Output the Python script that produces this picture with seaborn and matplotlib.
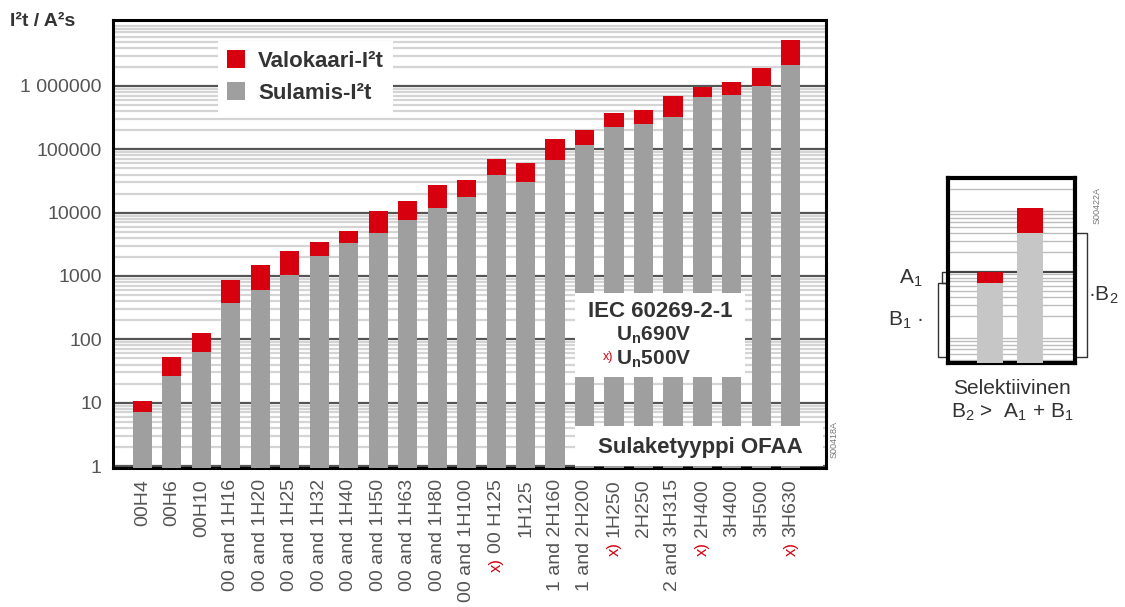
import numpy as np
import pandas as pd
import matplotlib.pyplot as plt
import matplotlib.ticker as mticker
import matplotlib.transforms as mtransforms
from matplotlib.patches import Rectangle
import seaborn as sns

sns.set_style("white")
plt.rcParams["font.family"] = ["Liberation Sans", "DejaVu Sans"]
plt.rcParams["mathtext.fontset"] = "custom"
plt.rcParams["mathtext.rm"] = "Liberation Sans"
plt.rcParams["mathtext.bf"] = "Liberation Sans:bold"

# fuse sizes (OFAA)
fuses = ["00H4", "00H6", "00H10", "00 and 1H16", "00 and 1H20", "00 and 1H25",
         "00 and 1H32", "00 and 1H40", "00 and 1H50", "00 and 1H63", "00 and 1H80",
         "00 and 1H100", "00 H125", "1H125", "1 and 2H160", "1 and 2H200", "1H250",
         "2H250", "2 and 3H315", "2H400", "3H400", "3H500", "3H630"]
# sizes only rated for 500 V, marked with a red x)
marked = ["00 H125", "1H250", "2H400", "3H630"]

# melting I2t and total (arcing) I2t, A2s
melt_i2t = [7, 26, 62, 370, 600, 1040, 2100, 3300, 4700, 7700, 12000, 17800,
            39600, 31000, 68000, 118000, 224000, 253000, 323000, 660000, 720000,
            985000, 2160000]
total_i2t = [10.5, 53, 125, 870, 1500, 2500, 3400, 5100, 10800, 15400, 27500, 33000,
             70000, 60600, 145000, 204000, 380000, 420000, 707000, 960000, 1140000,
             1950000, 5370000]

ytick_vals = [1, 10, 100, 1000, 10000, 100000, 1000000]
ytick_labels = ["1", "10", "100", "1000", "10000", "100000", "1 000000"]

# small selectivity sketch
sel_bars = ["A", "B"]
sel_melt = [65, 400]
sel_total = [98, 1000]

RED = "#d7000f"
GRAY = "#9f9f9f"
TXT = "#333333"

df = pd.DataFrame({"fuse": fuses, "melt": melt_i2t, "total": total_i2t})
sel = pd.DataFrame({"bar": sel_bars, "melt": sel_melt, "total": sel_total})

fig = plt.figure(figsize=(11.25, 6.07), dpi=100)

# main chart
ax = fig.add_axes([0.1004, 0.229, 0.634, 0.738])
ax.set_yscale("log")
sns.barplot(data=df, x="fuse", y="total", color=RED, width=0.65, saturation=1,
            linewidth=0, label="Valokaari-I²t", ax=ax, zorder=2)
sns.barplot(data=df, x="fuse", y="melt", color=GRAY, width=0.65, saturation=1,
            linewidth=0, label="Sulamis-I²t", ax=ax, zorder=3)
ax.set_xlim(-1.0, 23.2)
ax.set_ylim(0.93, 1.1e7)
ax.set_xlabel("")
ax.set_ylabel("")
ax.set_axisbelow(True)

ax.yaxis.set_minor_locator(mticker.LogLocator(base=10, subs=np.arange(2, 10)))
ax.yaxis.set_minor_formatter(mticker.NullFormatter())
ax.set_yticks(ytick_vals, ytick_labels)
ax.grid(axis="y", which="major", color="#555555", lw=1.6)
ax.grid(axis="y", which="minor", color="#d4d4d4", lw=1.6)
ax.tick_params(axis="y", which="both", length=0, labelsize=14, labelcolor="#555555", pad=8)
ax.set_xticks(range(len(fuses)), fuses, rotation=90)
ax.tick_params(axis="x", length=0, labelsize=14, labelcolor="#555555", pad=8)
for s in ax.spines.values():
    s.set_color("black")
    s.set_linewidth(2.2)

leg = ax.legend(loc="upper left", bbox_to_anchor=(0.132, 0.978), frameon=True,
                fancybox=False, edgecolor="none", framealpha=1,
                prop={"weight": "bold", "size": 16}, handlelength=0.8,
                handleheight=0.9, labelspacing=0.45, handletextpad=0.6)
for t in leg.get_texts():
    t.set_color(TXT)

# white info boxes over the bars
ax.add_patch(Rectangle((0.648, 0.203), 0.238, 0.188, transform=ax.transAxes,
                       facecolor="white", edgecolor="none", zorder=5))
ax.add_patch(Rectangle((0.648, 0.005), 0.348, 0.088, transform=ax.transAxes,
                       facecolor="white", edgecolor="none", zorder=5))
ax.text(0.767, 0.35, "IEC 60269-2-1", transform=ax.transAxes, ha="center",
        va="center", fontsize=16, weight="bold", color=TXT, zorder=6)
ax.text(0.7055, 0.296, r"U$_\mathbf{n}$690V", transform=ax.transAxes, ha="left",
        va="center", fontsize=15, weight="bold", color=TXT, zorder=6)
ax.text(0.7055, 0.242, r"U$_\mathbf{n}$500V", transform=ax.transAxes, ha="left",
        va="center", fontsize=15, weight="bold", color=TXT, zorder=6)
ax.text(0.702, 0.247, "x)", transform=ax.transAxes, ha="right", va="center",
        fontsize=9, color=RED, zorder=6)
ax.text(0.823, 0.045, "Sulaketyyppi OFAA", transform=ax.transAxes, ha="center",
        va="center", fontsize=16, weight="bold", color=TXT, zorder=6)

fig.text(0.009, 1 - 22 / 607, "I²t / A²s", ha="left", va="center", fontsize=14,
         weight="bold", color=TXT)
fig.text(834 / 1125, 1 - 440 / 607, "S00418A", rotation=90, ha="center",
         va="center", fontsize=6.5, color="#777777")

# selectivity sketch
ax2 = fig.add_axes([948 / 1125, 1 - 363 / 607, 127 / 1125, 185 / 607])
ax2.set_yscale("log")
sns.barplot(data=sel, x="bar", y="total", color=RED, width=0.67, saturation=1,
            linewidth=0, ax=ax2, zorder=2)
sns.barplot(data=sel, x="bar", y="melt", color="#c6c6c6", width=0.67, saturation=1,
            linewidth=0, ax=ax2, zorder=3)
ybot = 3.6
ax2.set_ylim(ybot, 3000)
ax2.set_xlim(-1.05, 2.125)
ax2.set_xlabel("")
ax2.set_ylabel("")
ax2.set_axisbelow(True)
ax2.set_yticks([100])
ax2.yaxis.set_minor_locator(mticker.LogLocator(base=10, subs=np.arange(2, 10)))
ax2.yaxis.set_minor_formatter(mticker.NullFormatter())
ax2.grid(axis="y", which="major", color="#444444", lw=1.6)
ax2.grid(axis="y", which="minor", color="#bdbdbd", lw=1.0)
ax2.tick_params(which="both", length=0, labelleft=False, labelbottom=False)
for s in ax2.spines.values():
    s.set_color("black")
    s.set_linewidth(3)

tr = mtransforms.blended_transform_factory(ax2.transAxes, ax2.transData)
yb = ybot * 1.25
# B1 bracket
ax2.plot([0, -0.08, -0.08, 0], [yb, yb, sel_melt[0], sel_melt[0]], transform=tr,
         color=TXT, lw=1, clip_on=False)
# A1 bracket
ax2.plot([0, -0.05, -0.05, 0], [sel_melt[0], sel_melt[0], sel_total[0], sel_total[0]],
         transform=tr, color=TXT, lw=1, clip_on=False)
# B2 bracket
ax2.plot([1.0, 1.094, 1.094, 1.0], [yb, yb, sel_melt[1], sel_melt[1]], transform=tr,
         color=TXT, lw=1, clip_on=False)
ax2.text(-0.2, np.sqrt(sel_melt[0] * sel_total[0]), "A$_1$", transform=tr, ha="right",
         va="center", fontsize=15, color=TXT)
ax2.text(-0.2, np.sqrt(yb * sel_melt[0]), "B$_1$ ·", transform=tr, ha="right",
         va="center", fontsize=15, color=TXT)
ax2.text(1.1, np.sqrt(yb * sel_melt[1]), "·B$_2$", transform=tr, ha="left",
         va="center", fontsize=15, color=TXT)
ax2.text(1.17, 0.85, "S00422A", transform=ax2.transAxes, rotation=90, ha="center",
         va="center", fontsize=6.5, color="#777777")

fig.text(1012 / 1125, 1 - 388 / 607, "Selektiivinen", ha="center", va="center",
         fontsize=15, color=TXT)
fig.text(1012 / 1125, 1 - 412 / 607, "B$_2$ >  A$_1$ + B$_1$", ha="center",
         va="center", fontsize=15, color=TXT)

# red x) marks under the 500 V fuse labels
fig.canvas.draw()
renderer = fig.canvas.get_renderer()
for lbl in ax.get_xticklabels():
    if lbl.get_text() in marked:
        bb = lbl.get_window_extent(renderer)
        fig.text((bb.x0 + bb.x1) / 2 / fig.bbox.width, (bb.y0 - 5) / fig.bbox.height,
                 "x)", rotation=90, ha="center", va="top", fontsize=12, color=RED)

fig.savefig("out.png", dpi=100)
